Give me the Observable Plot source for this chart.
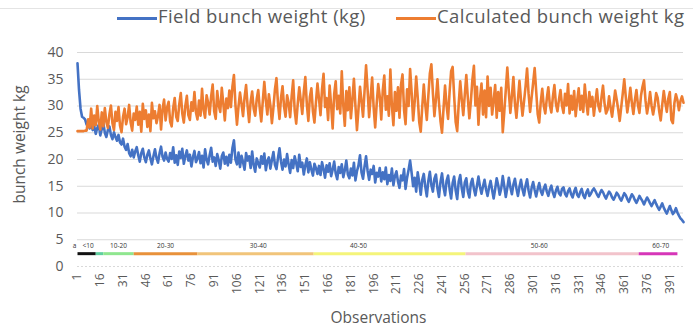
<!DOCTYPE html>
<html><head><meta charset="utf-8">
<script src="https://cdn.jsdelivr.net/npm/d3@7"></script>
<script src="https://cdn.jsdelivr.net/npm/@observablehq/plot@0.6"></script>
<style>
body{margin:0;background:#fff;font-family:"Open Sans",sans-serif;}
#wrap{position:relative;width:693px;height:332px;overflow:hidden;}
#topline{position:absolute;left:0;top:8px;width:693px;border-top:1px solid #e4e4e4;}
#legend{position:relative;height:30px;}
.li{position:absolute;top:4px;font-size:18.5px;letter-spacing:0.45px;color:#595959;white-space:nowrap;line-height:24px;}
.sw{display:inline-block;width:40px;height:3px;vertical-align:middle;margin-right:1px;}
</style></head>
<body><div id="wrap"><div id="topline"></div><div id="legend"></div><div id="chart"></div></div>
<script>
const fieldName = "Field bunch weight (kg)";
const calcName = "Calculated bunch weight kg";
const yLabel = "bunch weight kg";
const xLabel = "Observations";
const fieldWeight = [
38,33,29.5,28,27.8,27.5,26.5,27,25.8,26.8,25.5,26.2,24.8,25.9,26.5,24.5,25.7,26.8,25,24.2,
25.5,26.2,24.6,23.8,25.1,24.2,23.5,24.6,23.2,22.8,23.9,22.4,21.8,22.9,21.2,20.6,21.8,20.4,21.5,22.3,
20.8,19.6,21.2,22.0,20.4,19.5,20.9,21.7,20.2,19.1,20.6,21.9,20.3,19.4,21.1,22.4,20.5,19.8,21.3,20.1,
19.6,21.2,20.1,22.3,19.4,20.8,19.0,21.5,20.3,22.0,19.2,20.6,21.7,19.8,20.9,18.7,20.4,21.6,19.5,20.2,
21.4,19.3,20.7,18.5,21.9,20.0,19.1,20.8,22.2,19.6,20.4,18.8,21.0,19.9,18.3,20.6,21.3,19.2,20.5,18.9,
20.9,19.4,22.1,23.6,20.0,19.1,21.3,18.6,20.7,19.5,18.1,21.2,19.8,20.6,18.4,21.5,19.0,17.7,20.2,19.3,
18.5,20.6,19.2,21.1,18.0,19.7,20.4,18.3,19.9,21.4,19.0,18.2,20.3,22.1,19.6,18.1,20.0,18.7,21.0,19.1,
17.5,19.9,18.4,20.6,19.3,17.8,20.9,18.6,19.4,17.2,18.9,20.2,17.6,19.5,18.1,17.0,19.2,18.4,17.3,18.8,
17.1,19.5,18.2,16.6,18.9,17.7,19.3,16.9,18.1,19.6,17.4,16.3,18.6,17.5,19.1,16.7,18.0,19.8,17.2,16.5,
18.3,17.0,19.4,16.1,17.8,18.9,20.8,17.6,16.4,18.7,20.6,17.9,16.2,18.1,17.3,18.8,15.7,17.5,16.8,18.4,
15.9,17.6,16.3,18.5,15.4,17.1,16.0,18.3,15.2,16.9,17.8,15.9,14.7,17.0,16.1,18.2,14.5,16.6,18.1,19.8,
17.5,15.0,16.6,14.0,17.6,15.7,13.4,16.2,17.3,14.9,13.1,16.0,17.7,15.2,14.0,16.4,17.2,14.6,13.0,15.8,
17.4,14.8,13.3,16.0,17.0,14.5,12.7,15.6,16.8,14.2,12.6,15.9,17.1,14.6,13.0,15.7,16.5,14.0,12.9,15.5,
16.4,14.5,13.3,15.1,16.8,14.9,13.6,15.0,16.2,14.4,13.2,14.8,16.0,14.3,12.7,14.5,16.5,15.2,13.4,14.6,
16.9,15.0,13.0,14.7,16.6,14.8,13.5,15.3,16.4,14.6,13.2,14.9,16.2,14.4,13.3,15.1,16.3,14.2,12.9,14.7,
15.8,14.3,13.1,14.5,15.6,14.1,13.4,14.6,15.3,14.0,13.2,14.4,15.1,13.8,13.0,14.2,14.9,13.7,13.3,14.5,
14.8,13.6,13.1,14.1,14.6,13.5,12.9,14.0,14.7,13.4,13.0,13.9,14.5,13.3,12.8,13.8,14.4,13.2,13.6,14.2,
14.6,14.1,13.5,13.0,13.7,14.3,13.9,13.2,12.7,13.4,14.0,13.6,12.9,12.5,13.1,13.8,13.4,12.8,12.3,13.0,
13.7,13.3,12.6,12.1,12.8,13.5,13.1,12.4,11.9,12.5,13.2,12.7,12.2,11.6,12.3,12.9,12.4,11.8,11.3,11.9,
12.4,11.7,11.1,10.6,11.2,11.8,11.0,10.4,9.9,10.6,11.3,10.5,9.8,10.2,10.9,10.1,9.5,9.0,8.7,8.3
];
const calcWeight = [
25.3,25.3,25.3,25.3,25.3,25.4,25.4,27.5,26.0,29.5,25.8,28.2,26.4,30.0,27.1,25.6,28.8,26.2,29.6,27.0,
25.9,28.4,30.1,26.8,25.5,28.9,27.2,29.8,26.3,25.1,28.0,29.5,26.6,27.9,30.2,26.9,25.4,28.6,27.4,29.9,
26.5,28.9,25.2,30.4,27.6,29.2,26.1,28.4,25.3,30.6,27.7,29.0,26.8,28.1,30.2,25.6,29.4,31.2,27.3,29.7,
30.8,27.1,26.2,29.6,31.5,28.0,27.2,30.3,32.4,28.6,26.9,30.0,31.9,28.3,27.4,30.7,29.1,32.6,28.8,27.5,
31.0,28.2,33.2,29.3,27.8,32.0,30.6,28.4,31.8,34.0,29.0,27.6,32.8,30.1,28.9,33.4,30.5,27.3,31.4,29.6,
32.9,29.8,33.6,35.8,30.2,26.5,29.9,32.5,30.4,28.1,31.6,33.9,30.0,27.0,30.8,32.7,29.5,28.2,31.3,33.0,
29.6,27.1,30.9,34.5,31.0,28.4,32.2,30.1,26.8,29.7,33.1,35.2,30.5,27.6,31.5,33.7,29.9,28.0,32.0,30.6,
27.9,31.8,34.8,29.2,26.7,30.4,33.5,31.1,28.5,32.6,35.4,30.3,27.2,31.7,33.3,29.0,26.9,30.7,34.2,31.4,
28.3,33.1,36.0,29.8,31.5,27.4,33.8,30.1,25.8,32.2,34.6,29.4,31.9,28.6,36.5,30.1,26.3,32.8,29.2,33.5,
27.7,31.2,35.1,30.0,25.5,29.4,33.6,30.9,28.0,32.8,37.6,33.0,27.9,31.6,35.3,29.7,26.0,30.5,34.1,31.8,
27.5,32.9,35.7,29.3,31.8,28.2,36.8,30.0,26.4,32.6,29.1,33.5,27.8,34.0,35.9,29.3,26.6,33.1,30.0,36.9,
32.5,27.3,30.8,35.5,31.6,27.0,25.2,29.9,34.0,30.2,27.4,31.9,36.1,37.8,32.4,28.1,31.3,35.0,30.6,27.2,
25.0,29.5,33.8,30.1,27.6,32.7,36.5,37.3,31.8,27.0,25.3,30.4,34.6,31.2,28.3,32.1,35.8,31.5,27.7,30.9,
34.9,37.5,30.1,33.6,26.5,31.3,34.2,28.4,32.9,27.9,35.5,30.0,33.4,28.4,31.0,33.9,27.8,32.6,29.1,33.4,
25.1,28.9,33.0,37.2,32.6,28.7,31.9,35.4,30.5,27.8,31.2,34.7,31.1,28.2,30.8,33.6,37.0,32.3,28.9,31.6,
34.3,37.1,32.8,28.5,26.9,30.7,33.2,30.0,28.6,31.4,33.5,30.2,28.8,31.7,33.9,30.4,29.0,31.2,33.0,30.1,
28.7,32.3,30.1,34.1,28.6,31.9,29.3,32.8,28.1,31.0,33.3,29.3,31.9,28.9,34.0,30.8,28.4,32.6,29.9,31.7,
28.2,30.8,33.1,30.0,29.0,31.6,33.8,30.5,28.6,29.3,31.8,29.7,28.0,30.4,32.9,31.2,29.4,27.2,29.8,32.3,
35.0,31.7,28.8,30.9,33.4,30.6,28.5,31.1,33.0,30.2,28.7,31.9,33.6,34.8,31.0,28.6,30.3,32.6,30.0,28.4,
30.1,32.4,31.5,29.0,27.3,30.2,32.8,30.7,28.9,31.4,32.6,27.4,26.8,30.5,32.2,31.1,29.2,30.9,31.8,30.6
];
const xTicks = [1,16,31,46,61,76,91,106,121,136,151,166,181,196,211,226,241,256,271,286,301,316,331,346,361,376,391];
const yTicks = [0,5,10,15,20,25,30,35,40];
// class band (start obs, end obs, colour) and its labels
const bandStart = [1, 13, 18, 38, 80, 156.5, 256.5, 370.5];
const bandEnd   = [13, 18, 38, 80, 156.5, 256.5, 370.5, 396];
const bandColor = ["#111111","#5fcf9f","#8fe68f","#e8913a","#f1c47a","#f4f47a","#f2c3cb","#d636b8"];
const bandLabels = ["a","<10","10-20","20-30","30-40","40-50","50-60","60-70"];
const bandLabelX = [-1, 8, 28, 59, 120, 186, 305, 385];
const bandY = 2.4, bandLabelY = 3.8;

const blue = "#4472c4", orange = "#ed7d31";
const obs = fieldWeight.map((_, i) => i + 1);
const rows = [];
obs.forEach((o, i) => { rows.push({obs: o, w: fieldWeight[i], s: fieldName}); });
obs.forEach((o, i) => { rows.push({obs: o, w: calcWeight[i], s: calcName}); });
const band = bandStart.map((s, i) => ({x1: s, x2: bandEnd[i], c: bandColor[i]}));
const labs = bandLabels.map((t, i) => ({t, x: bandLabelX[i]}));

const leg = document.getElementById("legend");
leg.innerHTML = `<div class="li" style="left:117px"><span class="sw" style="background:${blue}"></span>${fieldName}</div>
<div class="li" style="left:396px"><span class="sw" style="background:${orange}"></span>${calcName}</div>`;

const chart = Plot.plot({
  width: 693, height: 302,
  marginLeft: 77, marginRight: 10, marginTop: 22, marginBottom: 66,
  style: {fontFamily: "Open Sans, sans-serif", color: "#595959", background: "#fff"},
  x: {domain: [1, 400]},
  y: {domain: [0, 40]},
  marks: [
    Plot.gridY(yTicks.slice(1), {stroke: "#d9d9d9", strokeOpacity: 1}),
    Plot.ruleY([0], {stroke: "#d9d9d9", strokeDasharray: "2,2"}),
    Plot.axisY(yTicks, {tickSize: 0, tickPadding: 14, fontSize: 14, label: null}),
    Plot.axisX(xTicks, {tickSize: 0, tickPadding: 7, tickRotate: -90, fontSize: 12, label: null, tickFormat: d => String(d)}),
    Plot.text([yLabel], {frameAnchor: "left", textAnchor: "middle", rotate: -90, dx: -57, dy: -15, fontSize: 15.5, fill: "#595959"}),
    Plot.text([xLabel], {frameAnchor: "bottom", dx: -2, dy: 56, fontSize: 15.5, fill: "#595959"}),
    Plot.link(band, {x1: "x1", x2: "x2", y1: bandY, y2: bandY, stroke: "c", strokeWidth: 3}),
    Plot.text(labs, {x: "x", y: bandLabelY, text: "t", fontSize: 6.5, fill: "#333"}),
    Plot.lineY(rows, {x: "obs", y: "w", z: "s", stroke: d => d.s === fieldName ? blue : orange, strokeWidth: 2.6})
  ]
});
document.getElementById("chart").append(chart);
</script></body></html>
